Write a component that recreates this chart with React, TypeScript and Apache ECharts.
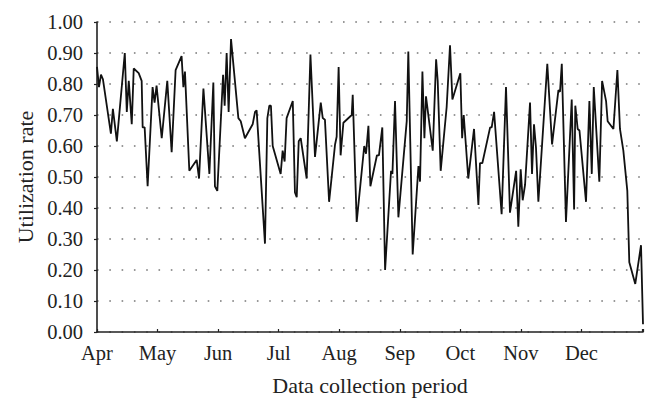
import React, { useEffect, useRef } from "react";
import * as echarts from "echarts";

// Day offset from 1 April (0 = Apr 1, 275 = Jan 1)
const collectionDay = [
  0, 1, 2, 3, 7, 8, 10, 14, 15, 16, 17.5, 18.5, 21, 22.5, 23, 24, 25.5, 28, 29,
  30, 32.6, 35.4, 37.6, 39.6, 42.6, 43.5, 44.3, 46.5, 50.2, 51.4, 53.6, 56.6, 58.6, 59.4, 60.6,
  63.5, 64.3, 65.3, 66.3, 67.5, 71.2, 72.4, 74.5, 78.4, 79.6, 80.4, 84.6, 85.8, 86.8, 87.6, 88.5,
  92.5, 93.5, 94.5, 95.5, 98.6, 99.7, 100.6, 101.6, 102.6, 105.6, 107.5, 109.8, 112.7, 113.7, 114.8, 116.9, 119.9,
  120.7, 121.7, 122.7, 124.1, 128.3, 128.8, 130.8, 134.6, 135.5, 136.7, 137.7, 141, 142, 143.7, 145.1, 148.1, 148.8, 150.1,
  151.8, 156, 156.8, 159, 161.9, 162.7, 163.9, 164.9, 165.7, 169.1, 170.8, 171.6, 173.1, 176.1, 177.8, 179,
  183, 183.9, 184.7, 187, 189.9, 192.1, 192.9, 194.1, 198, 198.8, 200, 203.8, 206, 208, 211.1,
  212.2, 213.4, 214.4, 215.6, 218.1, 219.1, 220.1, 221.1, 222.3, 226.8, 229.2, 232.4, 233.2, 234.1, 236.2, 239.1, 240.3, 240.9, 242.1,
  243, 246.3, 248, 249.2, 250.2, 253, 254.4, 256.4, 257.2, 260.1, 262.1, 263.4, 265.1, 267.1, 268.1, 271.1, 274, 275,
];

const utilization = [
  0.855, 0.79, 0.83, 0.815, 0.64, 0.72, 0.615, 0.9, 0.71, 0.81, 0.67, 0.85, 0.835, 0.81, 0.66, 0.66, 0.47, 0.79, 0.74,
  0.795, 0.625, 0.81, 0.58, 0.845, 0.89, 0.79, 0.84, 0.52, 0.555, 0.495, 0.785, 0.51, 0.805, 0.47, 0.455,
  0.83, 0.73, 0.9, 0.71, 0.945, 0.69, 0.68, 0.625, 0.67, 0.71, 0.715, 0.285, 0.69, 0.73, 0.73, 0.6,
  0.51, 0.585, 0.55, 0.69, 0.745, 0.45, 0.435, 0.615, 0.625, 0.495, 0.895, 0.565, 0.74, 0.69, 0.685, 0.42, 0.605,
  0.63, 0.855, 0.57, 0.675, 0.7, 0.765, 0.355, 0.6, 0.575, 0.665, 0.47, 0.57, 0.57, 0.66, 0.2, 0.52, 0.51, 0.745,
  0.37, 0.68, 0.905, 0.25, 0.535, 0.485, 0.84, 0.625, 0.76, 0.585, 0.88, 0.81, 0.52, 0.725, 0.925, 0.75,
  0.835, 0.625, 0.7, 0.495, 0.655, 0.41, 0.545, 0.545, 0.66, 0.66, 0.71, 0.38, 0.79, 0.385, 0.52,
  0.34, 0.525, 0.425, 0.475, 0.74, 0.51, 0.67, 0.595, 0.42, 0.865, 0.605, 0.78, 0.775, 0.865, 0.355, 0.75, 0.395, 0.73, 0.655,
  0.65, 0.42, 0.745, 0.51, 0.79, 0.485, 0.81, 0.745, 0.68, 0.655, 0.845, 0.655, 0.585, 0.455, 0.225, 0.155, 0.28, 0.025,
];

const monthLabels = ["Apr", "May", "Jun", "Jul", "Aug", "Sep", "Oct", "Nov", "Dec", ""];

const FONT = "'Liberation Serif', 'DejaVu Serif', serif";

export default function App() {
  const ref = useRef<HTMLDivElement>(null);

  useEffect(() => {
    if (!ref.current) return;
    const chart = echarts.init(ref.current, undefined, { renderer: "svg" });
    const data = collectionDay.map((d, i) => [d, utilization[i]]);
    chart.setOption({
      animation: false,
      backgroundColor: "#ffffff",
      grid: { left: 97, right: 15, top: 22, bottom: 78, containLabel: false },
      xAxis: {
        type: "value",
        min: 0,
        max: 275,
        interval: 30.5,
        name: "Data collection period",
        nameLocation: "middle",
        nameGap: 42,
        nameTextStyle: { fontFamily: FONT, fontSize: 22, color: "#222" },
        axisLine: { show: true, lineStyle: { color: "#222", width: 1.6 } },
        axisTick: { show: true, inside: true, length: 3, lineStyle: { color: "#222", width: 1.2 } },
        axisLabel: {
          fontFamily: FONT,
          fontSize: 20.5,
          color: "#222",
          margin: 10,
          formatter: (v: number) => monthLabels[Math.round(v / 30.5)] ?? "",
        },
        splitLine: { show: false },
      },
      yAxis: {
        type: "value",
        min: 0,
        max: 1,
        interval: 0.1,
        name: "Utilization rate",
        nameLocation: "middle",
        nameGap: 61,
        nameTextStyle: { fontFamily: FONT, fontSize: 22, color: "#222" },
        axisLine: { show: true, lineStyle: { color: "#222", width: 1.6 } },
        axisTick: { show: true, inside: false, length: 3, lineStyle: { color: "#222", width: 1.2 } },
        axisLabel: {
          fontFamily: FONT,
          fontSize: 20.5,
          color: "#222",
          margin: 14,
          formatter: (v: number) => v.toFixed(2),
        },
        splitLine: {
          show: true,
          lineStyle: { color: "#777", width: 1.6, type: [1.6, 10.7] },
        },
      },
      series: [
        {
          type: "line",
          data,
          symbol: "none",
          lineStyle: { color: "#111", width: 1.8 },
        },
      ],
    });
    return () => chart.dispose();
  }, []);

  return (
    <div
      ref={ref}
      style={{ position: "fixed", left: 0, top: 0, width: 658, height: 410 }}
    />
  );
}
